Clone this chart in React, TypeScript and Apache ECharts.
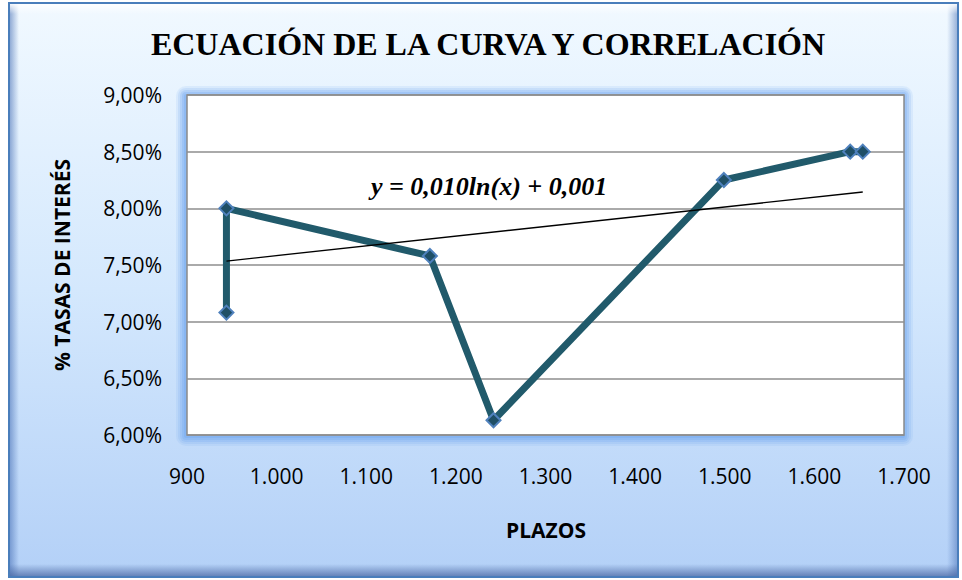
import React, { useEffect, useRef } from "react";
import * as echarts from "echarts";

const plazos = [944, 944, 1171, 1242, 1499, 1640, 1654];
const tasas = [7.08, 8.0, 7.58, 6.13, 8.25, 8.5, 8.5];
const trendX = [944, 1654];
const trendY = [7.535, 8.144];
const titleText = "ECUACIÓN DE LA CURVA Y CORRELACIÓN";
const equationText = "y = 0,010ln(x) + 0,001";
const xName = "PLAZOS";
const yName = "% TASAS DE INTERÉS";

const fmtThousands = (v: number) =>
  String(Math.round(v)).replace(/\B(?=(\d{3})+(?!\d))/g, ".");
const fmtPct = (v: number) => v.toFixed(2).replace(".", ",") + "%";

const PL = 187, PT = 95, PR = 904, PB = 435;

export default function App() {
  const ref = useRef<HTMLDivElement>(null);
  useEffect(() => {
    if (!ref.current) return;
    const chart = echarts.init(ref.current, null, { renderer: "svg" });
    const sans = "Open Sans";
    const serif = "Liberation Serif";
    const glow = [10, 8, 6, 4, 2].map((d, i) => ({
      type: "rect",
      z: -8,
      silent: true,
      shape: { x: PL - d - 1, y: PT - d + 1, width: PR - PL + 2 * d, height: PB - PT + 2 * d, r: d },
      style: { fill: `rgba(110,165,240,${0.12 + i * 0.05})` },
    }));
    chart.setOption({
      animation: false,
      graphic: [
        {
          type: "rect",
          z: -10,
          silent: true,
          shape: { x: 9, y: 3, width: 949, height: 574 },
          style: {
            fill: new echarts.graphic.LinearGradient(0, 0, 0, 1, [
              { offset: 0, color: "#f1f9ff" },
              { offset: 0.5, color: "#d4e8fd" },
              { offset: 1, color: "#b3d0f7" },
            ]),
            stroke: "#4a7ebb",
            lineWidth: 2,
          },
        },
        {
          type: "rect",
          z: -9,
          silent: true,
          shape: { x: 10, y: 4, width: 9, height: 572 },
          style: {
            fill: new echarts.graphic.LinearGradient(0, 0, 1, 0, [
              { offset: 0, color: "rgba(70,110,180,0.55)" },
              { offset: 1, color: "rgba(70,110,180,0)" },
            ]),
          },
        },
        {
          type: "rect",
          z: -9,
          silent: true,
          shape: { x: 947, y: 4, width: 10, height: 572 },
          style: {
            fill: new echarts.graphic.LinearGradient(0, 0, 1, 0, [
              { offset: 0, color: "rgba(70,110,180,0)" },
              { offset: 1, color: "rgba(70,110,180,0.5)" },
            ]),
          },
        },
        {
          type: "rect",
          z: -9,
          silent: true,
          shape: { x: 10, y: 564, width: 947, height: 12 },
          style: {
            fill: new echarts.graphic.LinearGradient(0, 0, 0, 1, [
              { offset: 0, color: "rgba(70,100,160,0)" },
              { offset: 1, color: "rgba(70,100,160,0.7)" },
            ]),
          },
        },
        {
          type: "rect",
          z: -9,
          silent: true,
          shape: { x: 10, y: 4, width: 947, height: 10 },
          style: {
            fill: new echarts.graphic.LinearGradient(0, 0, 0, 1, [
              { offset: 0, color: "rgba(255,255,255,0.9)" },
              { offset: 1, color: "rgba(255,255,255,0)" },
            ]),
          },
        },
        ...glow,
        {
          type: "text",
          x: 488,
          y: 44,
          style: {
            text: titleText,
            fontFamily: serif,
            fontWeight: "bold",
            fontSize: 32,
            fill: "#000",
            align: "center",
            verticalAlign: "middle",
          },
        },
        {
          type: "text",
          x: 371,
          y: 186,
          z: 10,
          style: {
            text: equationText,
            fontFamily: serif,
            fontWeight: "bold",
            fontStyle: "italic",
            fontSize: 26,
            fill: "#000",
            align: "left",
            verticalAlign: "middle",
          },
        },
        {
          type: "text",
          x: 546,
          y: 530,
          style: {
            text: xName,
            fontFamily: sans,
            fontWeight: "bold",
            fontSize: 21,
            fill: "#000",
            align: "center",
            verticalAlign: "middle",
          },
        },
        {
          type: "text",
          x: 62,
          y: 265,
          rotation: Math.PI / 2,
          style: {
            text: yName,
            fontFamily: sans,
            fontWeight: "bold",
            fontSize: 21,
            fill: "#000",
            align: "center",
            verticalAlign: "middle",
          },
        },
      ],
      grid: {
        left: PL,
        top: PT,
        right: 962 - PR,
        bottom: 580 - PB,
        show: true,
        backgroundColor: "#ffffff",
        borderColor: "#8a8a8a",
        borderWidth: 1.5,
      },
      xAxis: {
        type: "value",
        min: 900,
        max: 1700,
        interval: 100,
        axisLine: { show: false },
        axisTick: { show: false },
        splitLine: { show: false },
        axisLabel: {
          margin: 30,
          fontFamily: sans,
          fontSize: 21,
          color: "#000",
          formatter: fmtThousands,
        },
      },
      yAxis: {
        type: "value",
        min: 6,
        max: 9,
        interval: 0.5,
        axisLine: { show: false },
        axisTick: { show: false },
        splitLine: { show: true, lineStyle: { color: "#8e8e8e", width: 1.5 } },
        axisLabel: {
          margin: 25,
          fontFamily: sans,
          fontSize: 21,
          color: "#000",
          formatter: fmtPct,
        },
      },
      series: [
        {
          type: "line",
          data: plazos.map((x, i) => [x, tasas[i]]),
          symbol: "diamond",
          symbolSize: 14,
          lineStyle: { color: "#215a6b", width: 7 },
          itemStyle: { color: "#1f4f66", borderColor: "#4f81bd", borderWidth: 2 },
          z: 3,
        },
        {
          type: "line",
          data: trendX.map((x, i) => [x, trendY[i]]),
          symbol: "none",
          lineStyle: { color: "#000", width: 1.3 },
          z: 4,
        },
      ],
    });
    return () => chart.dispose();
  }, []);
  return (
    <div
      ref={ref}
      style={{ position: "absolute", left: 0, top: 0, width: 962, height: 580 }}
    />
  );
}
